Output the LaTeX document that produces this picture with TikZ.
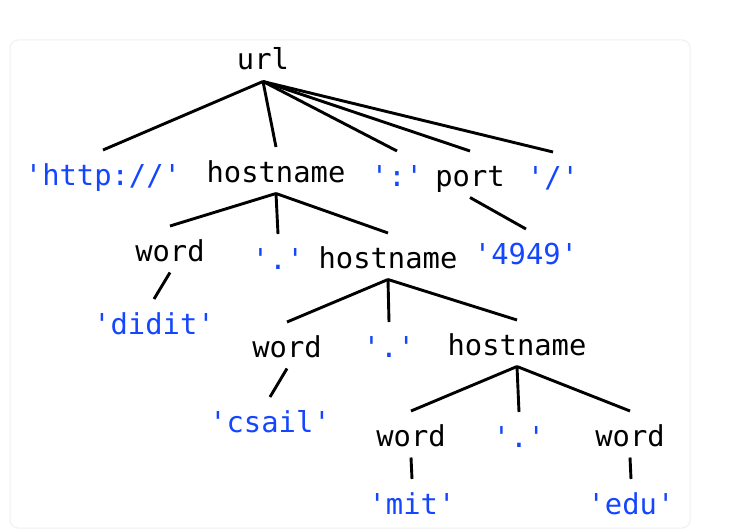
\documentclass[tikz,border=0pt]{standalone}
\usepackage{fontspec}
\setmonofont{DejaVu Sans Mono}
\usepackage{tikz}
\definecolor{litc}{HTML}{1445FF}
\definecolor{framec}{HTML}{EFEFEF}

\begin{document}
\begin{tikzpicture}[x=1pt, y=-1pt, line width=2.9pt,
    every node/.style={font=\ttfamily\fontsize{28.8}{34}\selectfont,
      inner sep=0pt, outer sep=0pt, text height=35pt, text depth=11.5pt,
      anchor=base},
    rule/.style={text=black},
    lit/.style={text=litc}]
    \useasboundingbox (0,0) rectangle (744,532);
    % faint frame
    \draw[framec, line width=1pt, rounded corners=8pt] (10,40) rectangle (690,528);
    % top rule
    \node[rule] (url) at (263,70) {url};
    % level 2
    \node[lit]  (http)  at (103,185) {'http://'};
    \node[rule] (host1) at (276,182) {hostname};
    \node[lit]  (colon) at (397,186) {':'};
    \node[rule] (port)  at (470,186) {port};
    \node[lit]  (slash) at (553,187) {'/'};
    % level 3
    \node[rule] (word1) at (170,261) {word};
    \node[lit]  (dot1)  at (278,269) {'.'};
    \node[rule] (host2) at (388,268) {hostname};
    \node[lit]  (num)   at (526,264) {'4949'};
    \node[lit]  (didit) at (154,334) {'didit'};
    % level 4
    \node[rule] (word2) at (287,357) {word};
    \node[lit]  (dot2)  at (389,357) {'.'};
    \node[rule] (host3) at (517,355) {hostname};
    \node[lit]  (csail) at (270,432) {'csail'};
    % level 5
    \node[rule] (word3) at (411,446) {word};
    \node[lit]  (dot3)  at (519,447) {'.'};
    \node[rule] (word4) at (630,446) {word};
    \node[lit]  (mit)   at (412,514) {'mit'};
    \node[lit]  (edu)   at (631,514) {'edu'};
    % branches
    \foreach \p/\c in {url/http, url/host1, url/colon, url/port, url/slash,
        host1/word1, host1/dot1, host1/host2, port/num, word1/didit,
        host2/word2, host2/dot2, host2/host3, word2/csail,
        host3/word3, host3/dot3, host3/word4, word3/mit, word4/edu}
      \draw (\p.south) -- (\c.north);
\end{tikzpicture}
\end{document}
